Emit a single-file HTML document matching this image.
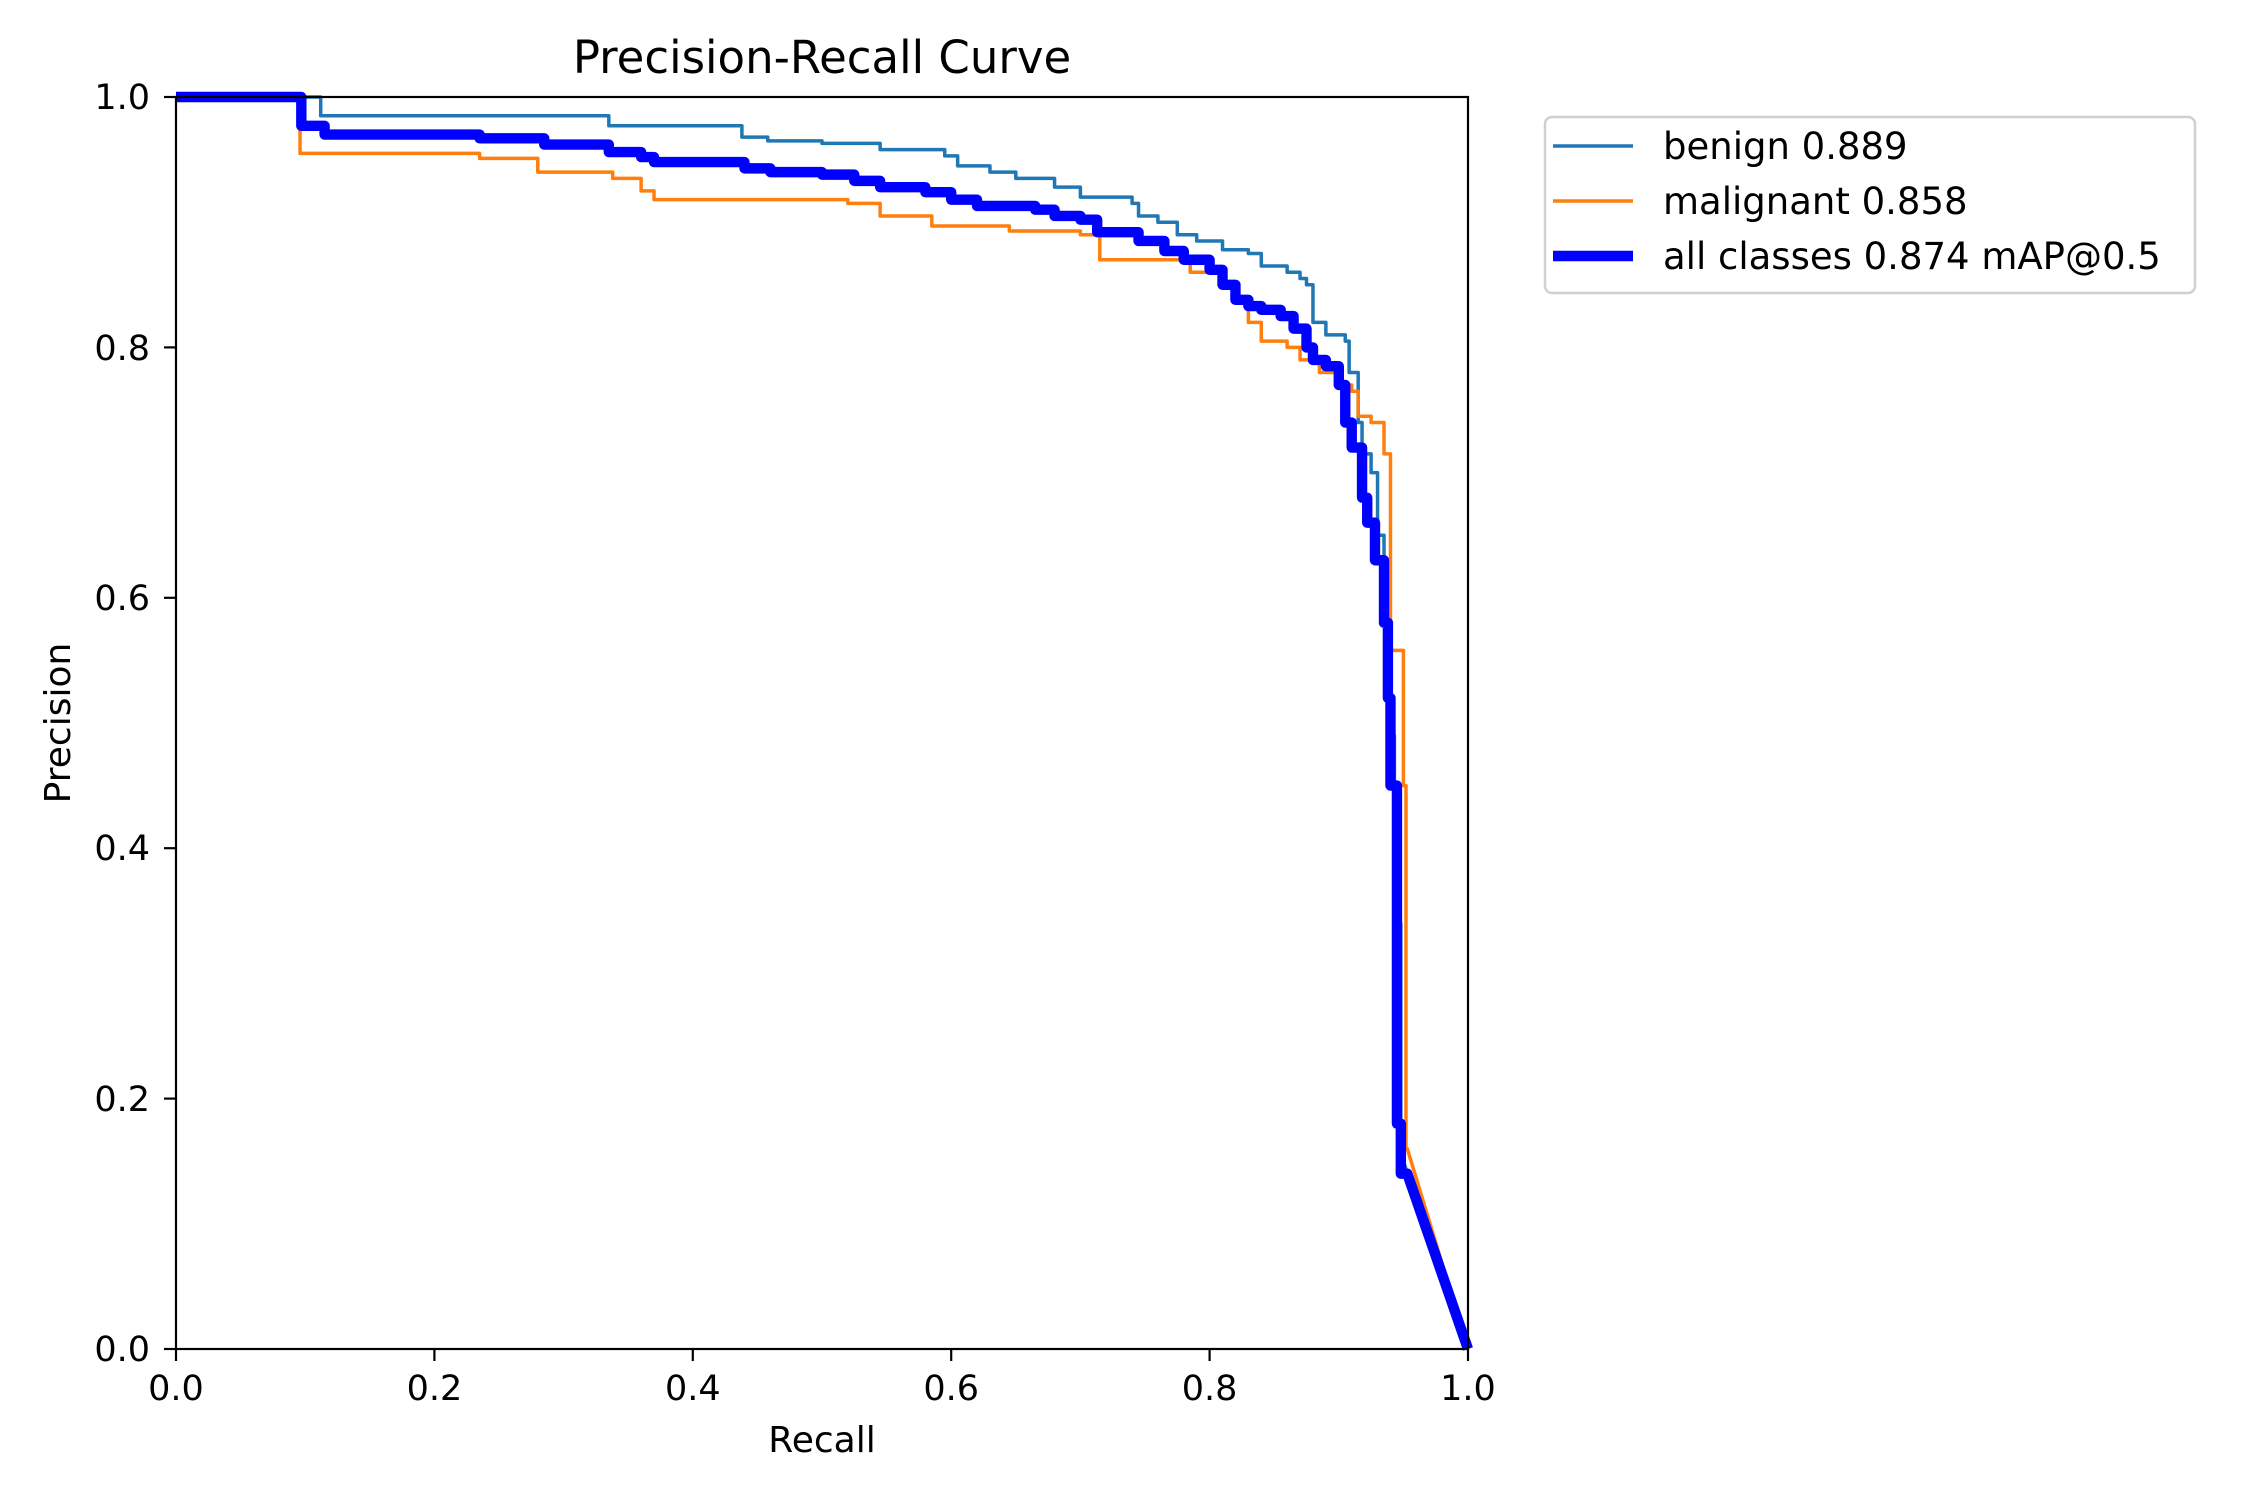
<!DOCTYPE html>
<html><head><meta charset="utf-8"><style>
html,body{margin:0;padding:0;background:#fff}
svg{display:block}
text{font-family:"DejaVu Sans","Liberation Sans",sans-serif;fill:#000}
</style></head><body>
<svg width="2250" height="1500" viewBox="0 0 2250 1500" xmlns="http://www.w3.org/2000/svg">
<rect width="2250" height="1500" fill="#fff"/>
<g transform="translate(176,1349) scale(1292,-1252)" fill="none" stroke-linejoin="round">
<path vector-effect="non-scaling-stroke" stroke="#1f77b4" stroke-width="3.5" d="M0,1 H0.112 V0.985 H0.335 V0.977 H0.438 V0.968 H0.458 V0.965 H0.5 V0.963 H0.545 V0.958 H0.595 V0.953 H0.605 V0.945 H0.63 V0.94 H0.65 V0.935 H0.68 V0.928 H0.7 V0.92 H0.74 V0.915 H0.745 V0.905 H0.76 V0.9 H0.775 V0.89 H0.79 V0.885 H0.81 V0.878 H0.83 V0.875 H0.84 V0.865 H0.86 V0.86 H0.87 V0.855 H0.875 V0.85 H0.88 V0.82 H0.89 V0.81 H0.905 V0.805 H0.908 V0.78 H0.915 V0.74 H0.918 V0.715 H0.925 V0.7 H0.93 V0.65 H0.935 V0.61 H0.937 V0.58 H0.938 V0.55 H0.94 V0.49 H0.943 V0.34 H0.948 V0.17 H0.95 V0.15 L1,0"/>
<path vector-effect="non-scaling-stroke" stroke="#ff7f0e" stroke-width="3.5" d="M0,1 H0.096 V0.955 H0.235 V0.951 H0.28 V0.94 H0.338 V0.935 H0.36 V0.925 H0.37 V0.918 H0.52 V0.915 H0.545 V0.905 H0.585 V0.897 H0.645 V0.893 H0.7 V0.89 H0.715 V0.87 H0.785 V0.86 H0.81 V0.85 H0.82 V0.84 H0.83 V0.82 H0.84 V0.805 H0.86 V0.8 H0.87 V0.79 H0.885 V0.78 H0.9 V0.77 H0.91 V0.765 H0.915 V0.745 H0.925 V0.74 H0.935 V0.715 H0.94 V0.558 H0.95 V0.45 H0.952 V0.16 H0.953 L1,0"/>
<path vector-effect="non-scaling-stroke" stroke="#0000ff" stroke-width="10.4" d="M0,1 H0.097 V0.977 H0.115 V0.97 H0.235 V0.967 H0.285 V0.962 H0.335 V0.956 H0.36 V0.952 H0.37 V0.948 H0.44 V0.943 H0.46 V0.94 H0.5 V0.938 H0.525 V0.933 H0.545 V0.928 H0.58 V0.924 H0.6 V0.918 H0.62 V0.913 H0.665 V0.91 H0.68 V0.905 H0.7 V0.902 H0.713 V0.892 H0.745 V0.885 H0.765 V0.877 H0.78 V0.87 H0.8 V0.862 H0.81 V0.85 H0.82 V0.838 H0.83 V0.833 H0.84 V0.83 H0.855 V0.825 H0.865 V0.815 H0.875 V0.8 H0.88 V0.79 H0.89 V0.785 H0.9 V0.77 H0.905 V0.74 H0.91 V0.72 H0.918 V0.68 H0.922 V0.66 H0.928 V0.63 H0.935 V0.58 H0.938 V0.52 H0.94 V0.45 H0.945 V0.18 H0.948 V0.14 H0.953 L1,0"/>
</g>
<rect x="176" y="97" width="1292" height="1252" fill="none" stroke="#000" stroke-width="2.2"/>
<g stroke="#000" stroke-width="2.2">
<line x1="176" y1="1349" x2="176" y2="1361"/><line x1="434.4" y1="1349" x2="434.4" y2="1361"/><line x1="692.8" y1="1349" x2="692.8" y2="1361"/><line x1="951.2" y1="1349" x2="951.2" y2="1361"/><line x1="1209.6" y1="1349" x2="1209.6" y2="1361"/><line x1="1468" y1="1349" x2="1468" y2="1361"/>
<line x1="164" y1="1349" x2="176" y2="1349"/><line x1="164" y1="1098.6" x2="176" y2="1098.6"/><line x1="164" y1="848.2" x2="176" y2="848.2"/><line x1="164" y1="597.8" x2="176" y2="597.8"/><line x1="164" y1="347.4" x2="176" y2="347.4"/><line x1="164" y1="97" x2="176" y2="97"/>
</g>
<g font-size="35" text-anchor="middle">
<text x="176" y="1400">0.0</text><text x="434.4" y="1400">0.2</text><text x="692.8" y="1400">0.4</text><text x="951.2" y="1400">0.6</text><text x="1209.6" y="1400">0.8</text><text x="1468" y="1400">1.0</text>
</g>
<g font-size="35" text-anchor="end">
<text x="150" y="1361">0.0</text><text x="150" y="1111">0.2</text><text x="150" y="860">0.4</text><text x="150" y="610">0.6</text><text x="150" y="360">0.8</text><text x="150" y="109">1.0</text>
</g>
<text x="822" y="73" font-size="45" text-anchor="middle">Precision-Recall Curve</text>
<text x="822" y="1452" font-size="36" text-anchor="middle">Recall</text>
<text transform="translate(70,723) rotate(-90)" font-size="36" text-anchor="middle">Precision</text>
<rect x="1545" y="117" width="650" height="176" rx="7" fill="#fff" stroke="#d0d0d0" stroke-width="2.5"/>
<line x1="1553" y1="146" x2="1633" y2="146" stroke="#1f77b4" stroke-width="3.5"/>
<line x1="1553" y1="201" x2="1633" y2="201" stroke="#ff7f0e" stroke-width="3.5"/>
<line x1="1553" y1="256" x2="1633" y2="256" stroke="#0000ff" stroke-width="10.4"/>
<g font-size="37">
<text x="1663" y="159">benign 0.889</text>
<text x="1663" y="214">malignant 0.858</text>
<text x="1663" y="269">all classes 0.874 mAP@0.5</text>
</g>
</svg>
</body></html>
